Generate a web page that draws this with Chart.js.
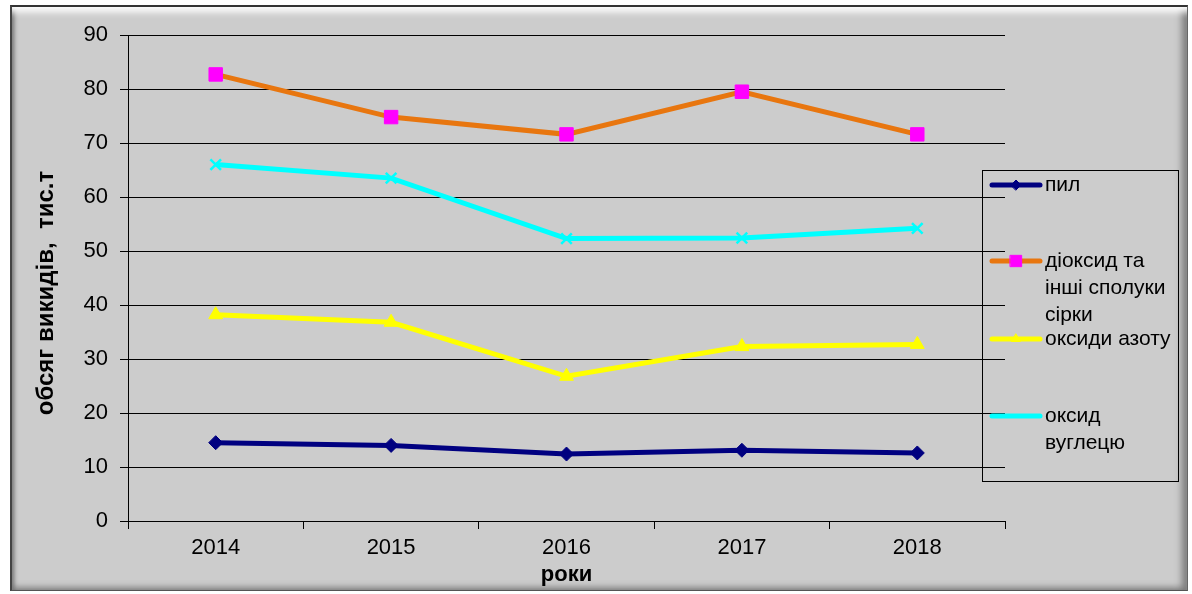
<!DOCTYPE html>
<html>
<head>
<meta charset="utf-8">
<script src="https://cdn.jsdelivr.net/npm/chart.js@4.4.1/dist/chart.umd.min.js"></script>
<style>
  html, body { margin: 0; padding: 0; background: #ffffff; }
  #wrap { position: relative; width: 1192px; height: 594px; overflow: hidden; }
  #frame {
    position: absolute; left: 10px; top: 5px; width: 1178px; height: 586px;
    background: #cccccc;
    border-top: 2px solid #333; border-left: 2px solid #444;
    border-bottom: 1px solid #555; border-right: 1px solid #666;
    box-sizing: border-box;
    box-shadow: inset 0 10px 7px -5px #ffffff, inset -9px 0 7px -4px #7a7a7a,
                inset 4px 0 4px -2px #6a6a6a, inset 0 -7px 6px -4px #8a8a8a;
  }
  #chart { position: absolute; left: 0; top: 0; }
</style>
</head>
<body>
<div id="wrap">
  <div id="frame"></div>
  <canvas id="chart" width="1192" height="594"></canvas>
</div>
<script>
const years = ['2014', '2015', '2016', '2017', '2018'];

// legend labels, already split the way the original wraps them
const seriesNames = [
  ['пил'],
  ['діоксид та', 'інші сполуки', 'сірки'],
  ['оксиди азоту'],
  ['оксид', 'вуглецю']
];

const dust = [14.5, 14.0, 12.4, 13.1, 12.6];
const sulphur = [82.7, 74.8, 71.6, 79.5, 71.6];
const nitrogen = [38.2, 36.8, 26.8, 32.3, 32.7];
const carbon = [66.0, 63.5, 52.3, 52.4, 54.2];

const yTicks = [0, 10, 20, 30, 40, 50, 60, 70, 80, 90];
const yTitle = 'обсяг викидів,  тис.т';
const xTitle = 'роки';

const fontFamily = '"Liberation Sans", Arial, sans-serif';

const makeSet = (idx, data, lineColor, markColor, style, radius) => ({
  label: seriesNames[idx].join(' '),
  data: data,
  borderColor: lineColor,
  backgroundColor: markColor,
  pointBackgroundColor: markColor,
  pointBorderColor: markColor,
  pointStyle: style,
  pointRadius: radius,
  pointBorderWidth: style === 'crossRot' ? 2.5 : 1,
  borderWidth: 5,
  tension: 0,
  fill: false
});

const datasets = [
  makeSet(0, dust, '#000080', '#000080', 'rectRot', 7),
  makeSet(1, sulphur, '#e8760f', '#ff00ff', 'rect', 9.5),
  makeSet(2, nitrogen, '#ffff00', '#ffff00', 'triangle', 8),
  makeSet(3, carbon, '#00ffff', '#00ffff', 'crossRot', 7.5)
];

// legend box drawn by hand, the original has it sitting on top of the plot
const sideLegend = {
  id: 'sideLegend',
  afterDatasetsDraw(chart) {
    const ctx = chart.ctx;
    const rows = [185, 261, 339, 416];
    ctx.save();
    ctx.strokeStyle = '#000';
    ctx.lineWidth = 1;
    ctx.strokeRect(982.5, 170.5, 196, 311);

    chart.data.datasets.forEach((ds, i) => {
      const y = rows[i];
      ctx.strokeStyle = ds.borderColor;
      ctx.lineWidth = 5;
      ctx.lineCap = 'round';
      ctx.beginPath();
      ctx.moveTo(992, y);
      ctx.lineTo(1040, y);
      ctx.stroke();

      if (ds.pointStyle !== 'crossRot') {
        ctx.fillStyle = ds.pointBackgroundColor;
        ctx.strokeStyle = ds.pointBorderColor;
        ctx.lineWidth = 1;
        Chart.helpers.drawPoint(ctx, {
          pointStyle: ds.pointStyle,
          radius: ds.pointStyle === 'rect' ? 8 : 5,
          rotation: 0,
          borderWidth: 1
        }, 1016, y);
      }

      ctx.fillStyle = '#000';
      ctx.font = '21px ' + fontFamily;
      ctx.textBaseline = 'middle';
      ctx.textAlign = 'left';
      seriesNames[i].forEach((line, k) => {
        ctx.fillText(line, 1045, y + k * 27);
      });
    });

    // y axis title sits a bit lower than the plot centre in the original
    ctx.translate(46, 293);
    ctx.rotate(-Math.PI / 2);
    ctx.font = 'bold 24px ' + fontFamily;
    ctx.textAlign = 'center';
    ctx.textBaseline = 'middle';
    ctx.fillText(yTitle, 0, 0);
    ctx.restore();
  }
};

new Chart(document.getElementById('chart'), {
  type: 'line',
  data: { labels: years, datasets: datasets },
  plugins: [sideLegend],
  options: {
    responsive: false,
    animation: false,
    layout: { padding: { left: 28, right: 187, top: 35, bottom: 4 } },
    plugins: {
      legend: { display: false },
      tooltip: { enabled: false }
    },
    scales: {
      x: {
        offset: true,
        grid: {
          offset: true,
          drawOnChartArea: false,
          drawTicks: true,
          tickLength: 8,
          color: '#000'
        },
        border: { color: '#000', width: 1 },
        ticks: {
          color: '#000',
          padding: 6,
          font: { family: fontFamily, size: 22 }
        },
        title: {
          display: true,
          text: xTitle,
          color: '#000',
          padding: { top: 0, bottom: 2 },
          font: { family: fontFamily, size: 22, weight: 'bold' }
        },
        afterFit: (s) => { s.height = 69; }
      },
      y: {
        min: 0,
        max: 90,
        afterBuildTicks: (s) => { s.ticks = yTicks.map(v => ({ value: v })); },
        grid: {
          color: '#000',
          lineWidth: 1,
          drawTicks: true,
          tickLength: 8
        },
        border: { color: '#000', width: 1 },
        ticks: {
          color: '#000',
          padding: 12,
          font: { family: fontFamily, size: 22 }
        },
        afterFit: (s) => { s.width = 100; }
      }
    }
  }
});
</script>
</body>
</html>
